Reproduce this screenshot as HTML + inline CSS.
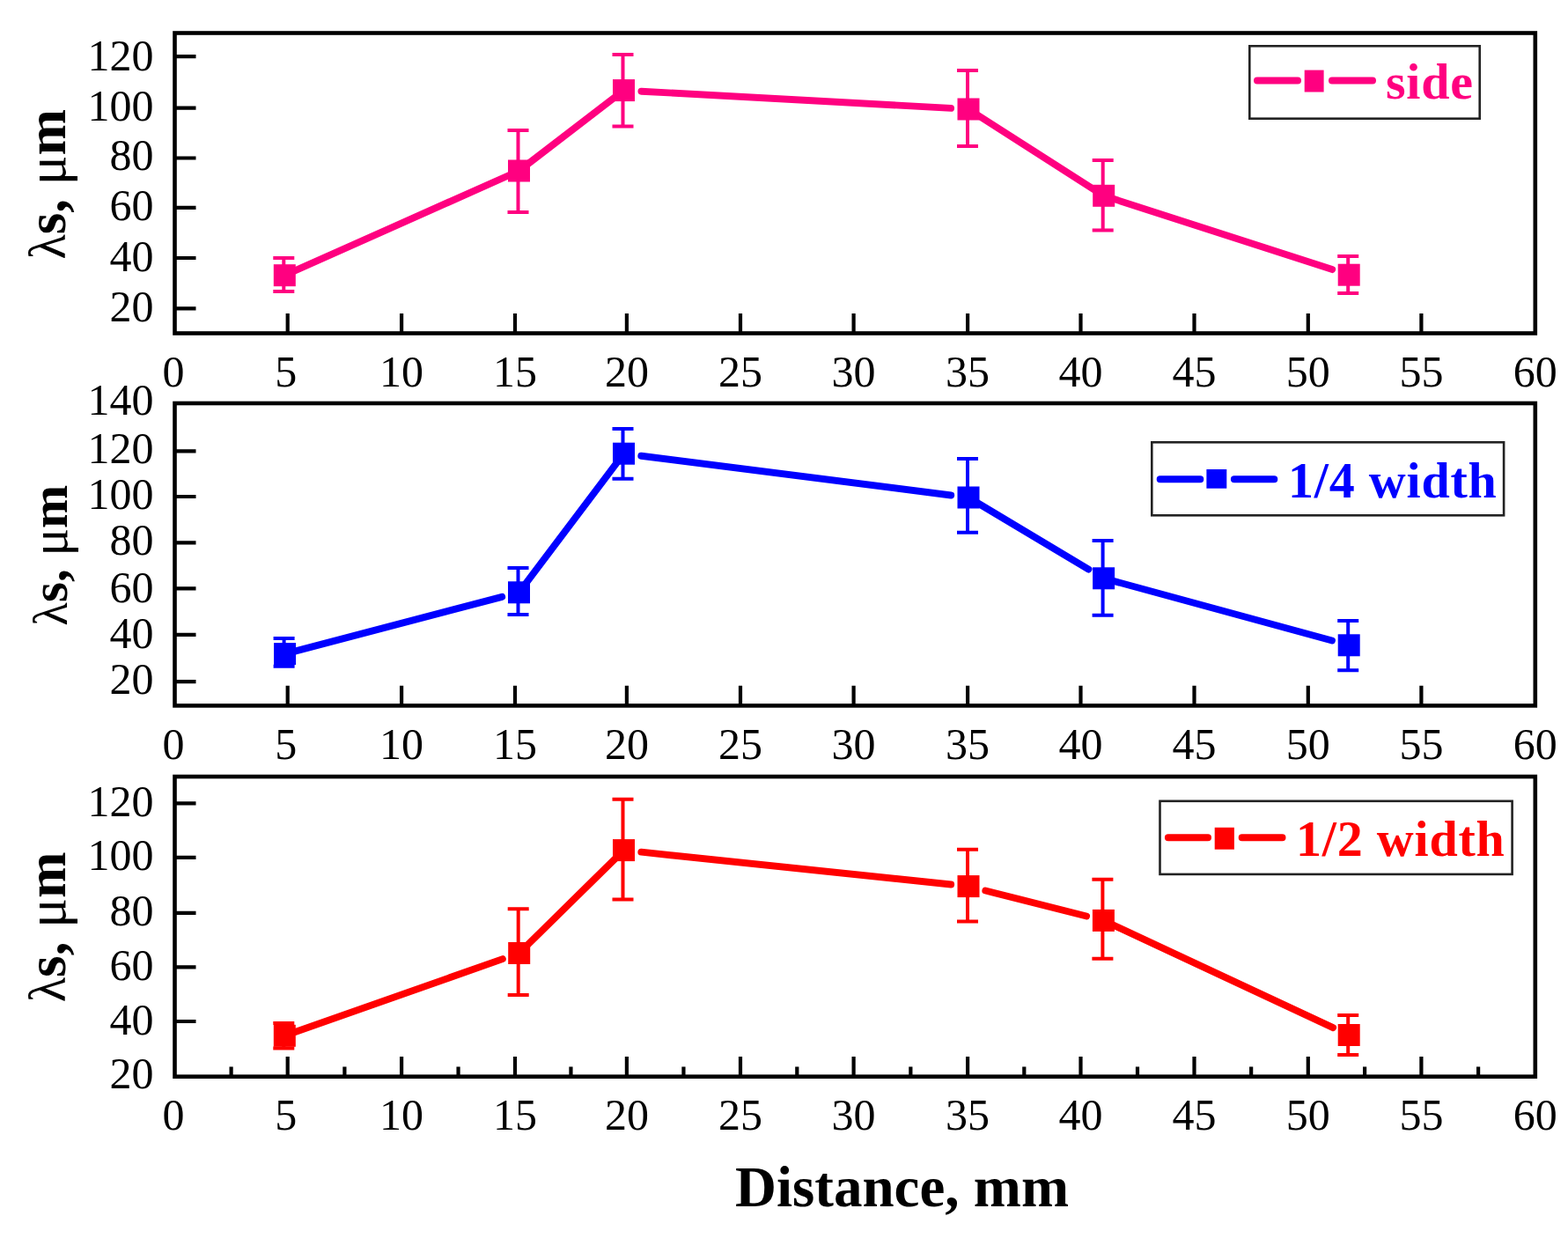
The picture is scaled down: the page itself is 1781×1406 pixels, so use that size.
<!DOCTYPE html>
<html><head><meta charset="utf-8"><title>Distance plot</title>
<style>
html,body{margin:0;padding:0;background:#fff;}
body{width:1781px;height:1406px;overflow:hidden;}
svg{display:block;}
.tk{font-family:"Liberation Serif","Times New Roman",serif;font-size:50px;fill:#000;}
.yl{font-family:"Liberation Serif","Times New Roman",serif;font-size:62px;fill:#000;}
.lg{font-family:"Liberation Serif","Times New Roman",serif;font-size:58px;font-weight:bold;letter-spacing:0.8px;}
.xt{font-family:"Liberation Serif","Times New Roman",serif;font-size:65px;font-weight:bold;fill:#000;}
</style></head><body>
<svg width="1781" height="1406" viewBox="0 0 1781 1406">
<rect x="0" y="0" width="1781" height="1406" fill="#fff"/>
<path d="M323.3 312.7 L589.5 194" stroke="#FF0080" stroke-width="7.9" stroke-linecap="round" fill="none"/>
<path d="M589.5 194 L708.5 102.6" stroke="#FF0080" stroke-width="7.9" stroke-linecap="round" fill="none"/>
<path d="M728.42 103.69 L1080.08 122.91" stroke="#FF0080" stroke-width="7.9" stroke-linecap="round" fill="none"/>
<path d="M1100 124 L1253.7 222.3" stroke="#FF0080" stroke-width="7.9" stroke-linecap="round" fill="none"/>
<path d="M1253.7 222.3 L1513.21 306.07" stroke="#FF0080" stroke-width="7.9" stroke-linecap="round" fill="none"/>
<path d="M322.3 293 V331 M310.3 293 H334.3 M310.3 331 H334.3" stroke="#FF0080" stroke-width="4" fill="none"/>
<rect x="310.8" y="300.2" width="25" height="25" fill="#FF0080"/>
<path d="M588.5 148 V241 M576.5 148 H600.5 M576.5 241 H600.5" stroke="#FF0080" stroke-width="4" fill="none"/>
<rect x="577" y="181.5" width="25" height="25" fill="#FF0080"/>
<path d="M707.5 62 V143.6 M695.5 62 H719.5 M695.5 143.6 H719.5" stroke="#FF0080" stroke-width="4" fill="none"/>
<rect x="696" y="90.1" width="25" height="25" fill="#FF0080"/>
<path d="M1099 80 V166 M1087 80 H1111 M1087 166 H1111" stroke="#FF0080" stroke-width="4" fill="none"/>
<rect x="1087.5" y="111.5" width="25" height="25" fill="#FF0080"/>
<path d="M1252.7 182 V261.5 M1240.7 182 H1264.7 M1240.7 261.5 H1264.7" stroke="#FF0080" stroke-width="4" fill="none"/>
<rect x="1241.2" y="209.8" width="25" height="25" fill="#FF0080"/>
<path d="M1531.2 291 V333 M1519.2 291 H1543.2 M1519.2 333 H1543.2" stroke="#FF0080" stroke-width="4" fill="none"/>
<rect x="1519.7" y="299.7" width="25" height="25" fill="#FF0080"/>
<path d="M326.7 378.5 V355.9 M456.1 378.5 V355.9 M585 378.5 V355.9 M711.9 378.5 V355.9 M841 378.5 V355.9 M969.6 378.5 V355.9 M1099.1 378.5 V355.9 M1227.5 378.5 V355.9 M1356.5 378.5 V355.9 M1485.8 378.5 V355.9 M1614.4 378.5 V355.9 M198.5 64.2 H222.5 M198.5 122.7 H222.5 M198.5 179.5 H222.5 M198.5 235.9 H222.5 M198.5 293 H222.5 M198.5 350.3 H222.5" stroke="#000" stroke-width="4.2" fill="none"/>
<rect x="198.5" y="37.5" width="1545.3" height="341" fill="none" stroke="#000" stroke-width="4.6"/>
<text class="tk" x="174.4" y="80.15" text-anchor="end">120</text>
<text class="tk" x="174.4" y="136.9" text-anchor="end">100</text>
<text class="tk" x="174.4" y="193" text-anchor="end">80</text>
<text class="tk" x="174.4" y="249.5" text-anchor="end">60</text>
<text class="tk" x="174.4" y="308.4" text-anchor="end">40</text>
<text class="tk" x="174.4" y="365.1" text-anchor="end">20</text>
<text class="tk" x="196.9" y="439.2" text-anchor="middle">0</text>
<text class="tk" x="324.7" y="439.2" text-anchor="middle">5</text>
<text class="tk" x="456.1" y="439.2" text-anchor="middle">10</text>
<text class="tk" x="585" y="439.2" text-anchor="middle">15</text>
<text class="tk" x="711.9" y="439.2" text-anchor="middle">20</text>
<text class="tk" x="841" y="439.2" text-anchor="middle">25</text>
<text class="tk" x="969.6" y="439.2" text-anchor="middle">30</text>
<text class="tk" x="1099.1" y="439.2" text-anchor="middle">35</text>
<text class="tk" x="1227.5" y="439.2" text-anchor="middle">40</text>
<text class="tk" x="1356.5" y="439.2" text-anchor="middle">45</text>
<text class="tk" x="1485.8" y="439.2" text-anchor="middle">50</text>
<text class="tk" x="1614.4" y="439.2" text-anchor="middle">55</text>
<text class="tk" x="1743.8" y="439.2" text-anchor="middle">60</text>
<text class="yl" style="font-size:63px" transform="translate(74 209.25) rotate(-90)" text-anchor="middle"><tspan font-size="0.93em">λ</tspan><tspan font-weight="bold">s, </tspan><tspan>μ</tspan><tspan font-weight="bold">m</tspan></text>
<rect x="1419.3" y="52.3" width="261.4" height="82.4" fill="#fff" stroke="#222" stroke-width="2.6"/>
<path d="M1428 91.4 H1474 M1513 91.4 H1559" stroke="#FF0080" stroke-width="8" stroke-linecap="round" fill="none"/>
<rect x="1481.7" y="79.6" width="21.9" height="24.9" fill="#FF0080"/>
<text class="lg" x="1574" y="112.3" fill="#FF0080">side</text>
<path d="M323.6 742.6 L570.2 677.87" stroke="#0000FF" stroke-width="7.9" stroke-linecap="round" fill="none"/>
<path d="M589.5 672.8 L708.5 515.2" stroke="#0000FF" stroke-width="7.9" stroke-linecap="round" fill="none"/>
<path d="M728.29 517.72 L1080.21 562.48" stroke="#0000FF" stroke-width="7.9" stroke-linecap="round" fill="none"/>
<path d="M1100 565 L1236.48 646.57" stroke="#0000FF" stroke-width="7.9" stroke-linecap="round" fill="none"/>
<path d="M1253.6 656.8 L1512.95 727.55" stroke="#0000FF" stroke-width="7.9" stroke-linecap="round" fill="none"/>
<path d="M322.6 725 V756.7 M310.6 725 H334.6 M310.6 756.7 H334.6" stroke="#0000FF" stroke-width="4" fill="none"/>
<rect x="311.1" y="730.1" width="25" height="25" fill="#0000FF"/>
<path d="M588.5 645 V698 M576.5 645 H600.5 M576.5 698 H600.5" stroke="#0000FF" stroke-width="4" fill="none"/>
<rect x="577" y="660.3" width="25" height="25" fill="#0000FF"/>
<path d="M707.5 487.1 V543.8 M695.5 487.1 H719.5 M695.5 543.8 H719.5" stroke="#0000FF" stroke-width="4" fill="none"/>
<rect x="696" y="502.7" width="25" height="25" fill="#0000FF"/>
<path d="M1099 521.1 V604.8 M1087 521.1 H1111 M1087 604.8 H1111" stroke="#0000FF" stroke-width="4" fill="none"/>
<rect x="1087.5" y="552.5" width="25" height="25" fill="#0000FF"/>
<path d="M1252.6 613.9 V698.7 M1240.6 613.9 H1264.6 M1240.6 698.7 H1264.6" stroke="#0000FF" stroke-width="4" fill="none"/>
<rect x="1241.1" y="644.3" width="25" height="25" fill="#0000FF"/>
<path d="M1531.2 705 V761.3 M1519.2 705 H1543.2 M1519.2 761.3 H1543.2" stroke="#0000FF" stroke-width="4" fill="none"/>
<rect x="1519.7" y="720.3" width="25" height="25" fill="#0000FF"/>
<path d="M326.7 801.4 V778.8 M456.1 801.4 V778.8 M585 801.4 V778.8 M711.9 801.4 V778.8 M841 801.4 V778.8 M969.6 801.4 V778.8 M1099.1 801.4 V778.8 M1227.5 801.4 V778.8 M1356.5 801.4 V778.8 M1485.8 801.4 V778.8 M1614.4 801.4 V778.8 M198.5 512.3 H222.5 M198.5 564 H222.5 M198.5 616.3 H222.5 M198.5 668.3 H222.5 M198.5 720.9 H222.5 M198.5 774.1 H222.5" stroke="#000" stroke-width="4.2" fill="none"/>
<rect x="198.5" y="458" width="1545.3" height="343.4" fill="none" stroke="#000" stroke-width="4.6"/>
<text class="tk" x="174.4" y="471.4" text-anchor="end">140</text>
<text class="tk" x="174.4" y="525.9" text-anchor="end">120</text>
<text class="tk" x="174.4" y="578.1" text-anchor="end">100</text>
<text class="tk" x="174.4" y="630" text-anchor="end">80</text>
<text class="tk" x="174.4" y="684.2" text-anchor="end">60</text>
<text class="tk" x="174.4" y="735.9" text-anchor="end">40</text>
<text class="tk" x="174.4" y="788.2" text-anchor="end">20</text>
<text class="tk" x="196.9" y="862.1" text-anchor="middle">0</text>
<text class="tk" x="324.7" y="862.1" text-anchor="middle">5</text>
<text class="tk" x="456.1" y="862.1" text-anchor="middle">10</text>
<text class="tk" x="585" y="862.1" text-anchor="middle">15</text>
<text class="tk" x="711.9" y="862.1" text-anchor="middle">20</text>
<text class="tk" x="841" y="862.1" text-anchor="middle">25</text>
<text class="tk" x="969.6" y="862.1" text-anchor="middle">30</text>
<text class="tk" x="1099.1" y="862.1" text-anchor="middle">35</text>
<text class="tk" x="1227.5" y="862.1" text-anchor="middle">40</text>
<text class="tk" x="1356.5" y="862.1" text-anchor="middle">45</text>
<text class="tk" x="1485.8" y="862.1" text-anchor="middle">50</text>
<text class="tk" x="1614.4" y="862.1" text-anchor="middle">55</text>
<text class="tk" x="1743.8" y="862.1" text-anchor="middle">60</text>
<text class="yl" style="font-size:59px" transform="translate(76.3 630.75) rotate(-90)" text-anchor="middle"><tspan font-size="0.93em">λ</tspan><tspan font-weight="bold">s, </tspan><tspan>μ</tspan><tspan font-weight="bold">m</tspan></text>
<rect x="1308.3" y="502.3" width="399.8" height="83" fill="#fff" stroke="#222" stroke-width="2.6"/>
<path d="M1317.7 544.3 H1363.3 M1401.9 544.3 H1447.3" stroke="#0000FF" stroke-width="8" stroke-linecap="round" fill="none"/>
<rect x="1370.4" y="533" width="22.9" height="21.7" fill="#0000FF"/>
<text class="lg" x="1463" y="564.8" fill="#0000FF">1/4 width</text>
<path d="M323.3 1176.3 L570.88 1089.13" stroke="#FF0000" stroke-width="7.9" stroke-linecap="round" fill="none"/>
<path d="M589.7 1082.5 L708.5 965.6" stroke="#FF0000" stroke-width="7.9" stroke-linecap="round" fill="none"/>
<path d="M728.34 967.68 L1080.16 1004.52" stroke="#FF0000" stroke-width="7.9" stroke-linecap="round" fill="none"/>
<path d="M1119.34 1011.49 L1234.06 1040.51" stroke="#FF0000" stroke-width="7.9" stroke-linecap="round" fill="none"/>
<path d="M1253.4 1045.4 L1514.12 1167.06" stroke="#FF0000" stroke-width="7.9" stroke-linecap="round" fill="none"/>
<path d="M322.3 1162 V1190.6 M310.3 1162 H334.3 M310.3 1190.6 H334.3" stroke="#FF0000" stroke-width="4" fill="none"/>
<rect x="310.8" y="1163.8" width="25" height="25" fill="#FF0000"/>
<path d="M588.7 1032.3 V1130.1 M576.7 1032.3 H600.7 M576.7 1130.1 H600.7" stroke="#FF0000" stroke-width="4" fill="none"/>
<rect x="577.2" y="1070" width="25" height="25" fill="#FF0000"/>
<path d="M707.5 907.8 V1021.6 M695.5 907.8 H719.5 M695.5 1021.6 H719.5" stroke="#FF0000" stroke-width="4" fill="none"/>
<rect x="696" y="953.1" width="25" height="25" fill="#FF0000"/>
<path d="M1099 964.8 V1046.4 M1087 964.8 H1111 M1087 1046.4 H1111" stroke="#FF0000" stroke-width="4" fill="none"/>
<rect x="1087.5" y="994.1" width="25" height="25" fill="#FF0000"/>
<path d="M1252.4 998.8 V1088.8 M1240.4 998.8 H1264.4 M1240.4 1088.8 H1264.4" stroke="#FF0000" stroke-width="4" fill="none"/>
<rect x="1240.9" y="1032.9" width="25" height="25" fill="#FF0000"/>
<path d="M1531.2 1153 V1198 M1519.2 1153 H1543.2 M1519.2 1198 H1543.2" stroke="#FF0000" stroke-width="4" fill="none"/>
<rect x="1519.7" y="1163" width="25" height="25" fill="#FF0000"/>
<path d="M326.7 1222.7 V1200.1 M456.1 1222.7 V1200.1 M585 1222.7 V1200.1 M711.9 1222.7 V1200.1 M841 1222.7 V1200.1 M969.6 1222.7 V1200.1 M1099.1 1222.7 V1200.1 M1227.5 1222.7 V1200.1 M1356.5 1222.7 V1200.1 M1485.8 1222.7 V1200.1 M1614.4 1222.7 V1200.1 M262.6 1222.7 V1211.4 M391.4 1222.7 V1211.4 M520.55 1222.7 V1211.4 M648.45 1222.7 V1211.4 M776.45 1222.7 V1211.4 M905.3 1222.7 V1211.4 M1034.35 1222.7 V1211.4 M1163.3 1222.7 V1211.4 M1292 1222.7 V1211.4 M1421.15 1222.7 V1211.4 M1550.1 1222.7 V1211.4 M1679.1 1222.7 V1211.4 M198.5 912.4 H222.5 M198.5 973.8 H222.5 M198.5 1036.8 H222.5 M198.5 1098.3 H222.5 M198.5 1160 H222.5" stroke="#000" stroke-width="4.2" fill="none"/>
<rect x="198.5" y="882" width="1545.3" height="340.7" fill="none" stroke="#000" stroke-width="4.6"/>
<text class="tk" x="174.4" y="926.5" text-anchor="end">120</text>
<text class="tk" x="174.4" y="988" text-anchor="end">100</text>
<text class="tk" x="174.4" y="1050.9" text-anchor="end">80</text>
<text class="tk" x="174.4" y="1112.5" text-anchor="end">60</text>
<text class="tk" x="174.4" y="1175.2" text-anchor="end">40</text>
<text class="tk" x="174.4" y="1236.2" text-anchor="end">20</text>
<text class="tk" x="196.9" y="1283.4" text-anchor="middle">0</text>
<text class="tk" x="324.7" y="1283.4" text-anchor="middle">5</text>
<text class="tk" x="456.1" y="1283.4" text-anchor="middle">10</text>
<text class="tk" x="585" y="1283.4" text-anchor="middle">15</text>
<text class="tk" x="711.9" y="1283.4" text-anchor="middle">20</text>
<text class="tk" x="841" y="1283.4" text-anchor="middle">25</text>
<text class="tk" x="969.6" y="1283.4" text-anchor="middle">30</text>
<text class="tk" x="1099.1" y="1283.4" text-anchor="middle">35</text>
<text class="tk" x="1227.5" y="1283.4" text-anchor="middle">40</text>
<text class="tk" x="1356.5" y="1283.4" text-anchor="middle">45</text>
<text class="tk" x="1485.8" y="1283.4" text-anchor="middle">50</text>
<text class="tk" x="1614.4" y="1283.4" text-anchor="middle">55</text>
<text class="tk" x="1743.8" y="1283.4" text-anchor="middle">60</text>
<text class="yl" style="font-size:63px" transform="translate(74 1052.95) rotate(-90)" text-anchor="middle"><tspan font-size="0.93em">λ</tspan><tspan font-weight="bold">s, </tspan><tspan>μ</tspan><tspan font-weight="bold">m</tspan></text>
<rect x="1317.5" y="909.8" width="400.1" height="83.1" fill="#fff" stroke="#222" stroke-width="2.6"/>
<path d="M1326.9 951.2 H1372 M1410.7 951.2 H1456.5" stroke="#FF0000" stroke-width="8" stroke-linecap="round" fill="none"/>
<rect x="1379.7" y="939.8" width="22.2" height="24.9" fill="#FF0000"/>
<text class="lg" x="1472" y="972" fill="#FF0000">1/2 width</text>
<text class="xt" x="835" y="1369.5">Distance, mm</text>
</svg>
</body></html>
